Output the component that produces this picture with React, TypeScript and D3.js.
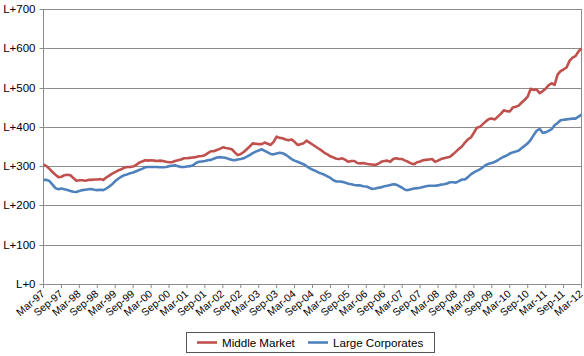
import React from "react";
import * as d3 from "d3";

const xTickLabels = [
  "Mar-97","Sep-97","Mar-98","Sep-98","Mar-99","Sep-99","Mar-00","Sep-00","Mar-01","Sep-01",
  "Mar-02","Sep-02","Mar-03","Sep-03","Mar-04","Sep-04","Mar-05","Sep-05","Mar-06","Sep-06",
  "Mar-07","Sep-07","Mar-08","Sep-08","Mar-09","Sep-09","Mar-10","Sep-10","Mar-11","Sep-11","Mar-12",
];
const yTickValues = [0, 100, 200, 300, 400, 500, 600, 700];
const yTickLabels = ["L+0","L+100","L+200","L+300","L+400","L+500","L+600","L+700"];

// monthly values, Mar-97 .. Mar-12
const middleMarket = [
  304,300,293,285,278,272,273,277,278,277,270,263,264,264,263,265,265,266,266,267,
  265,271,276,281,285,289,292,296,298,298,299,303,309,312,315,314,315,314,313,314,
  313,311,310,310,313,315,317,320,320,321,322,323,325,326,328,333,338,338,341,344,
  348,346,345,343,335,328,331,336,343,350,358,357,356,356,360,357,354,362,375,372,
  371,368,366,368,362,354,356,358,365,360,355,350,345,340,334,330,325,322,319,318,
  320,316,311,313,313,308,307,308,306,305,304,303,306,311,313,314,311,318,320,318,
  318,314,311,307,305,310,312,315,316,317,318,311,314,318,320,322,324,330,337,344,
  350,360,368,373,385,398,400,407,414,420,421,419,426,433,442,440,439,449,451,454,
  462,469,477,497,494,495,486,491,497,506,511,507,533,542,546,551,568,576,580,592,
  600,
];
const largeCorporates = [
  265,265,262,253,244,241,243,241,239,237,235,234,237,239,240,241,242,240,239,240,
  239,243,248,254,262,268,273,277,279,282,284,287,290,293,297,298,298,298,298,297,
  297,298,300,301,302,300,298,298,299,300,302,308,311,312,313,315,316,319,322,323,
  322,321,318,316,315,317,318,320,324,328,333,337,340,343,339,335,331,330,332,334,
  333,329,324,318,314,311,308,305,300,295,291,288,284,281,278,274,270,264,261,261,
  260,258,255,254,252,251,251,249,248,245,242,243,245,246,249,250,252,254,253,249,
  245,240,239,241,243,244,245,247,249,250,250,250,251,253,254,256,259,259,258,262,
  266,266,272,279,284,288,292,297,303,306,308,311,315,320,324,327,332,335,337,340,
  346,352,358,367,379,390,395,385,386,390,394,404,410,417,418,419,420,421,421,426,
  431,
];

const seriesNames = ["Middle Market", "Large Corporates"];
const seriesColors = ["#C0504D", "#4F81BD"];

const W = 584, H = 356;
const left = 43.5, right = 581.5, top = 9, bottom = 284;
const FONT = "'Liberation Sans', Arial, sans-serif";

export default function App() {
  const x = d3.scaleLinear().domain([0, middleMarket.length - 1]).range([left, right]);
  const y = d3.scaleLinear().domain([0, 700]).range([bottom, top]);
  const line = d3.line<number>().x((_, i) => x(i)).y((d) => y(d));
  const tickMonths = xTickLabels.map((_, i) => i * 6);
  const grid = "#8c8c8c";

  return (
    <svg width={W} height={H} style={{ position: "absolute", left: 0, top: 0, background: "#fff" }} fontFamily={FONT}>
      {yTickValues.map((v, i) => (
        <g key={v}>
          {v > 0 && <line x1={left} x2={right} y1={Math.round(y(v)) + 0.5} y2={Math.round(y(v)) + 0.5} stroke={grid} strokeWidth={1} />}
          <line x1={left - 4} x2={left} y1={Math.round(y(v)) + 0.5} y2={Math.round(y(v)) + 0.5} stroke={grid} strokeWidth={1} />
          <text x={left - 8} y={y(v)} dy="0.35em" textAnchor="end" fontSize={11.5} fill="#000">{yTickLabels[i]}</text>
        </g>
      ))}
      <line x1={left} x2={left} y1={top} y2={bottom} stroke={grid} strokeWidth={1} />
      <line x1={right} x2={right} y1={top} y2={bottom} stroke={grid} strokeWidth={1} />
      <line x1={left} x2={right} y1={Math.round(bottom) + 0.5} y2={Math.round(bottom) + 0.5} stroke={grid} strokeWidth={1} />
      {tickMonths.map((m, i) => (
        <g key={m}>
          <line x1={x(m)} x2={x(m)} y1={bottom} y2={bottom + 4} stroke={grid} strokeWidth={1} />
          <text transform={`translate(${x(m) + 2},${bottom + 11}) rotate(-40)`} textAnchor="end" fontSize={10.5} fill="#000">{xTickLabels[i]}</text>
        </g>
      ))}
      <path d={line(middleMarket) || ""} fill="none" stroke={seriesColors[0]} strokeWidth={2.6} strokeLinejoin="round" />
      <path d={line(largeCorporates) || ""} fill="none" stroke={seriesColors[1]} strokeWidth={2.6} strokeLinejoin="round" />
      <rect x={186.5} y={332.5} width={248} height={20} fill="#fff" stroke="#555" strokeWidth={1} />
      {seriesNames.map((n, i) => {
        const lx = i === 0 ? 197 : 308;
        return (
          <g key={n}>
            <line x1={lx} x2={lx + 20} y1={342.5} y2={342.5} stroke={seriesColors[i]} strokeWidth={2.6} />
            <text x={lx + 25} y={342.5} dy="0.35em" fontSize={11.6} fill="#000">{n}</text>
          </g>
        );
      })}
    </svg>
  );
}
